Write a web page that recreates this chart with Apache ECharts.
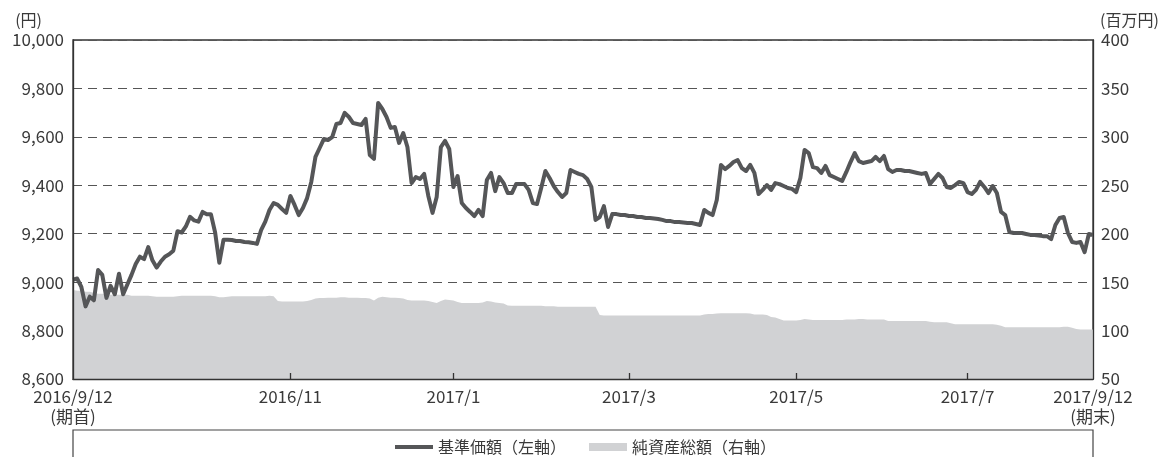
<!DOCTYPE html>
<html><head><meta charset="utf-8">
<script src="https://cdn.jsdelivr.net/npm/echarts@6/dist/echarts.min.js"></script>
<style>html,body{margin:0;padding:0;background:#fff}#c{width:1165px;height:457px}</style>
</head><body><div id="c"></div>
<script>
// 基準価額（円）
const navValues = [
 9010,9015,8980,8900,8940,8925,9050,9030,8935,8985,
 8950,9035,8950,8990,9030,9075,9105,9095,9145,9090,
 9060,9085,9105,9115,9130,9210,9205,9230,9270,9255,
 9250,9290,9280,9280,9205,9080,9175,9175,9174,9170,
 9170,9166,9165,9162,9158,9215,9250,9298,9327,9319,
 9302,9286,9356,9319,9277,9306,9347,9414,9517,9554,
 9591,9587,9599,9653,9657,9699,9682,9657,9653,9649,
 9674,9525,9509,9740,9715,9682,9637,9641,9575,9616,
 9558,9409,9434,9426,9447,9356,9286,9352,9558,9583,
 9550,9393,9438,9327,9306,9290,9273,9298,9273,9422,
 9451,9376,9434,9409,9368,9368,9405,9405,9405,9381,
 9327,9323,9389,9459,9430,9397,9372,9352,9368,9463,
 9455,9447,9442,9426,9393,9257,9269,9314,9228,9281,
 9281,9277,9277,9273,9273,9269,9269,9265,9265,9263,
 9261,9257,9252,9252,9248,9248,9246,9244,9244,9240,
 9236,9298,9286,9277,9339,9484,9467,9480,9496,9504,
 9471,9459,9484,9451,9364,9381,9401,9381,9409,9405,
 9397,9389,9385,9372,9430,9546,9533,9475,9471,9451,
 9480,9442,9434,9426,9418,9455,9496,9533,9500,9492,
 9496,9500,9517,9500,9521,9467,9455,9463,9463,9459,
 9459,9455,9451,9447,9451,9405,9426,9447,9430,9393,
 9389,9401,9414,9409,9372,9364,9381,9414,9393,9368,
 9397,9368,9290,9277,9207,9203,9203,9203,9199,9195,
 9195,9193,9190,9190,9178,9236,9265,9269,9203,9166,
 9162,9166,9124,9199,9195
];
// 純資産総額（百万円）
const netAssets = [
 142,141,141,140,140,139,138,138,138,137,
 137,137,137,137,136,136,136,136,136,135.5,
 135,135,135,135,135,135.5,136,136,136,136,
 136,136,136,136,135.5,134.5,134.5,135,135.5,135.5,
 135.5,135.5,135.5,135.5,135.5,135.5,135.5,136,135.5,130.5,
 130,130,130,130,130,130,130.5,131.5,133,133.5,
 133.5,134,134,134,134.5,134.5,134,134,134,133.5,
 133.5,133,131,134,135,134.5,134,134,133.5,133,
 131.5,131,131,131,131,130.5,129.5,128.5,130.5,132,
 131.5,131,129.5,128.5,128.5,128.5,128.5,128.5,129,130.5,
 130,129,128.5,128,126,125.5,125.5,125.5,125.5,125.5,
 125.5,125.5,125.5,125,125,125,124.5,124.5,124.5,124.5,
 124.5,124.5,124.5,124.5,124.5,124.5,116,115.5,115.5,115.5,
 115.5,115.5,115.5,115.5,115.5,115.5,115.5,115.5,115.5,115.5,
 115.5,115.5,115.5,115.5,115.5,115.5,115.5,115.5,115.5,115.5,
 115.5,116.5,117,117,117.5,118,118,118,118,118,
 118,118,117.5,116.5,116.5,116.5,116,114,113.5,112,
 110.5,110.5,110.5,110.5,111,112,111.5,111,111,111,
 111,111,111,111,111,111.5,111.5,111.5,112,112,
 111.5,111.5,111.5,111.5,111.5,110,110,110,110,110,
 110,110,110,110,110,109,108.5,108.5,108.5,108.5,
 107.5,106.5,106.5,106.5,106.5,106.5,106.5,106.5,106.5,106.5,
 106.5,106,105,103.5,103.5,103.5,103.5,103.5,103.5,103.5,
 103.5,103.5,103.5,103.5,103.5,103.5,103.5,104,104,103,
 101.5,101,101,101,101
];
const tickIndex = [0, 52, 91, 133, 173, 214, 244];
const tickLabels = ['2016/9/12\n(期首)', '2016/11', '2017/1', '2017/3', '2017/5', '2017/7', '2017/9/12\n(期末)'];
const innerTickIndex = [52, 91, 133, 173, 214];
const seriesNames = ['基準価額（左軸）', '純資産総額（右軸）'];
const leftAxis = {min: 8600, max: 10000, step: 200, name: '(円)'};
const rightAxis = {min: 50, max: 400, step: 50, name: '(百万円)'};

const categories = navValues.map((_, i) => String(i));
const labelMap = {};
tickIndex.forEach((t, k) => { labelMap[t] = tickLabels[k]; });

const FONT = '"Noto Sans CJK JP", "Noto Sans", sans-serif';
const TXT = '#3a3a3a';
const chart = echarts.init(document.getElementById('c'), null, {renderer: 'canvas'});
chart.setOption({
  animation: false,
  backgroundColor: '#fff',
  textStyle: {fontFamily: FONT},
  grid: {left: 73, right: 72, top: 40, bottom: 78, show: true, borderColor: '#333', borderWidth: 1.3, backgroundColor: 'transparent'},
  legend: [
    {data: [seriesNames[0]], left: 390, top: 434, icon: 'rect', itemWidth: 38, itemHeight: 4,
     itemGap: 6, textStyle: {fontFamily: FONT, fontSize: 16, color: TXT}},
    {data: [seriesNames[1]], left: 584, top: 434, icon: 'rect', itemWidth: 38, itemHeight: 8,
     itemGap: 6, textStyle: {fontFamily: FONT, fontSize: 16, color: TXT}}
  ],
  graphic: [{type: 'rect', shape: {x: 73, y: 430, width: 1020, height: 60},
    style: {fill: 'none', stroke: '#444', lineWidth: 1.2}, silent: true}],
  xAxis: {
    type: 'category', data: categories, boundaryGap: false, z: 5,
    axisLine: {lineStyle: {color: '#333', width: 1.3}},
    axisTick: {show: true, inside: true, length: 6, lineStyle: {color: '#333', width: 1.3},
      interval: (i) => innerTickIndex.includes(i)},
    axisLabel: {interval: (i) => tickIndex.includes(i), formatter: (v, i) => labelMap[i] || '',
      fontFamily: FONT, fontSize: 17, color: TXT, margin: 8, lineHeight: 20},
    splitLine: {show: false}
  },
  yAxis: [
    {type: 'value', position: 'left', min: leftAxis.min, max: leftAxis.max, interval: leftAxis.step,
     name: leftAxis.name, nameLocation: 'end', nameGap: 12,
     nameTextStyle: {fontFamily: FONT, fontSize: 16, color: TXT, align: 'right', padding: [0, 31, 0, 0]},
     axisLine: {show: false}, axisTick: {show: false},
     axisLabel: {fontFamily: FONT, fontSize: 17, color: TXT, margin: 9,
       formatter: (v) => v.toLocaleString('en-US')},
     splitLine: {show: true, lineStyle: {color: '#555', width: 1.2, type: [9, 6]}}},
    {type: 'value', position: 'right', min: rightAxis.min, max: rightAxis.max, interval: rightAxis.step,
     name: rightAxis.name, nameLocation: 'end', nameGap: 12, z: 5,
     nameTextStyle: {fontFamily: FONT, fontSize: 16, color: TXT, align: 'left', padding: [0, 0, 0, 7]},
     axisLine: {show: true, lineStyle: {color: '#333', width: 1.3}}, axisTick: {show: false},
     axisLabel: {fontFamily: FONT, fontSize: 17, color: TXT, margin: 8},
     splitLine: {show: false}},
    {type: 'value', position: 'left', min: leftAxis.min, max: leftAxis.max, interval: leftAxis.step, z: 5,
     axisLine: {show: true, lineStyle: {color: '#333', width: 1.3}}, axisTick: {show: false},
     axisLabel: {show: false}, splitLine: {show: false}}
  ],
  series: [
    {name: seriesNames[0], type: 'line', data: navValues, yAxisIndex: 0, z: 4,
     symbol: 'none', color: '#555658', lineStyle: {width: 4, color: '#555658', join: 'round'}},
    {name: seriesNames[1], type: 'line', data: netAssets, yAxisIndex: 1, z: 2,
     symbol: 'none', color: '#d1d2d4', lineStyle: {width: 0, color: '#d1d2d4'},
     areaStyle: {color: '#d1d2d4', opacity: 1}}
  ]
});
</script></body></html>
